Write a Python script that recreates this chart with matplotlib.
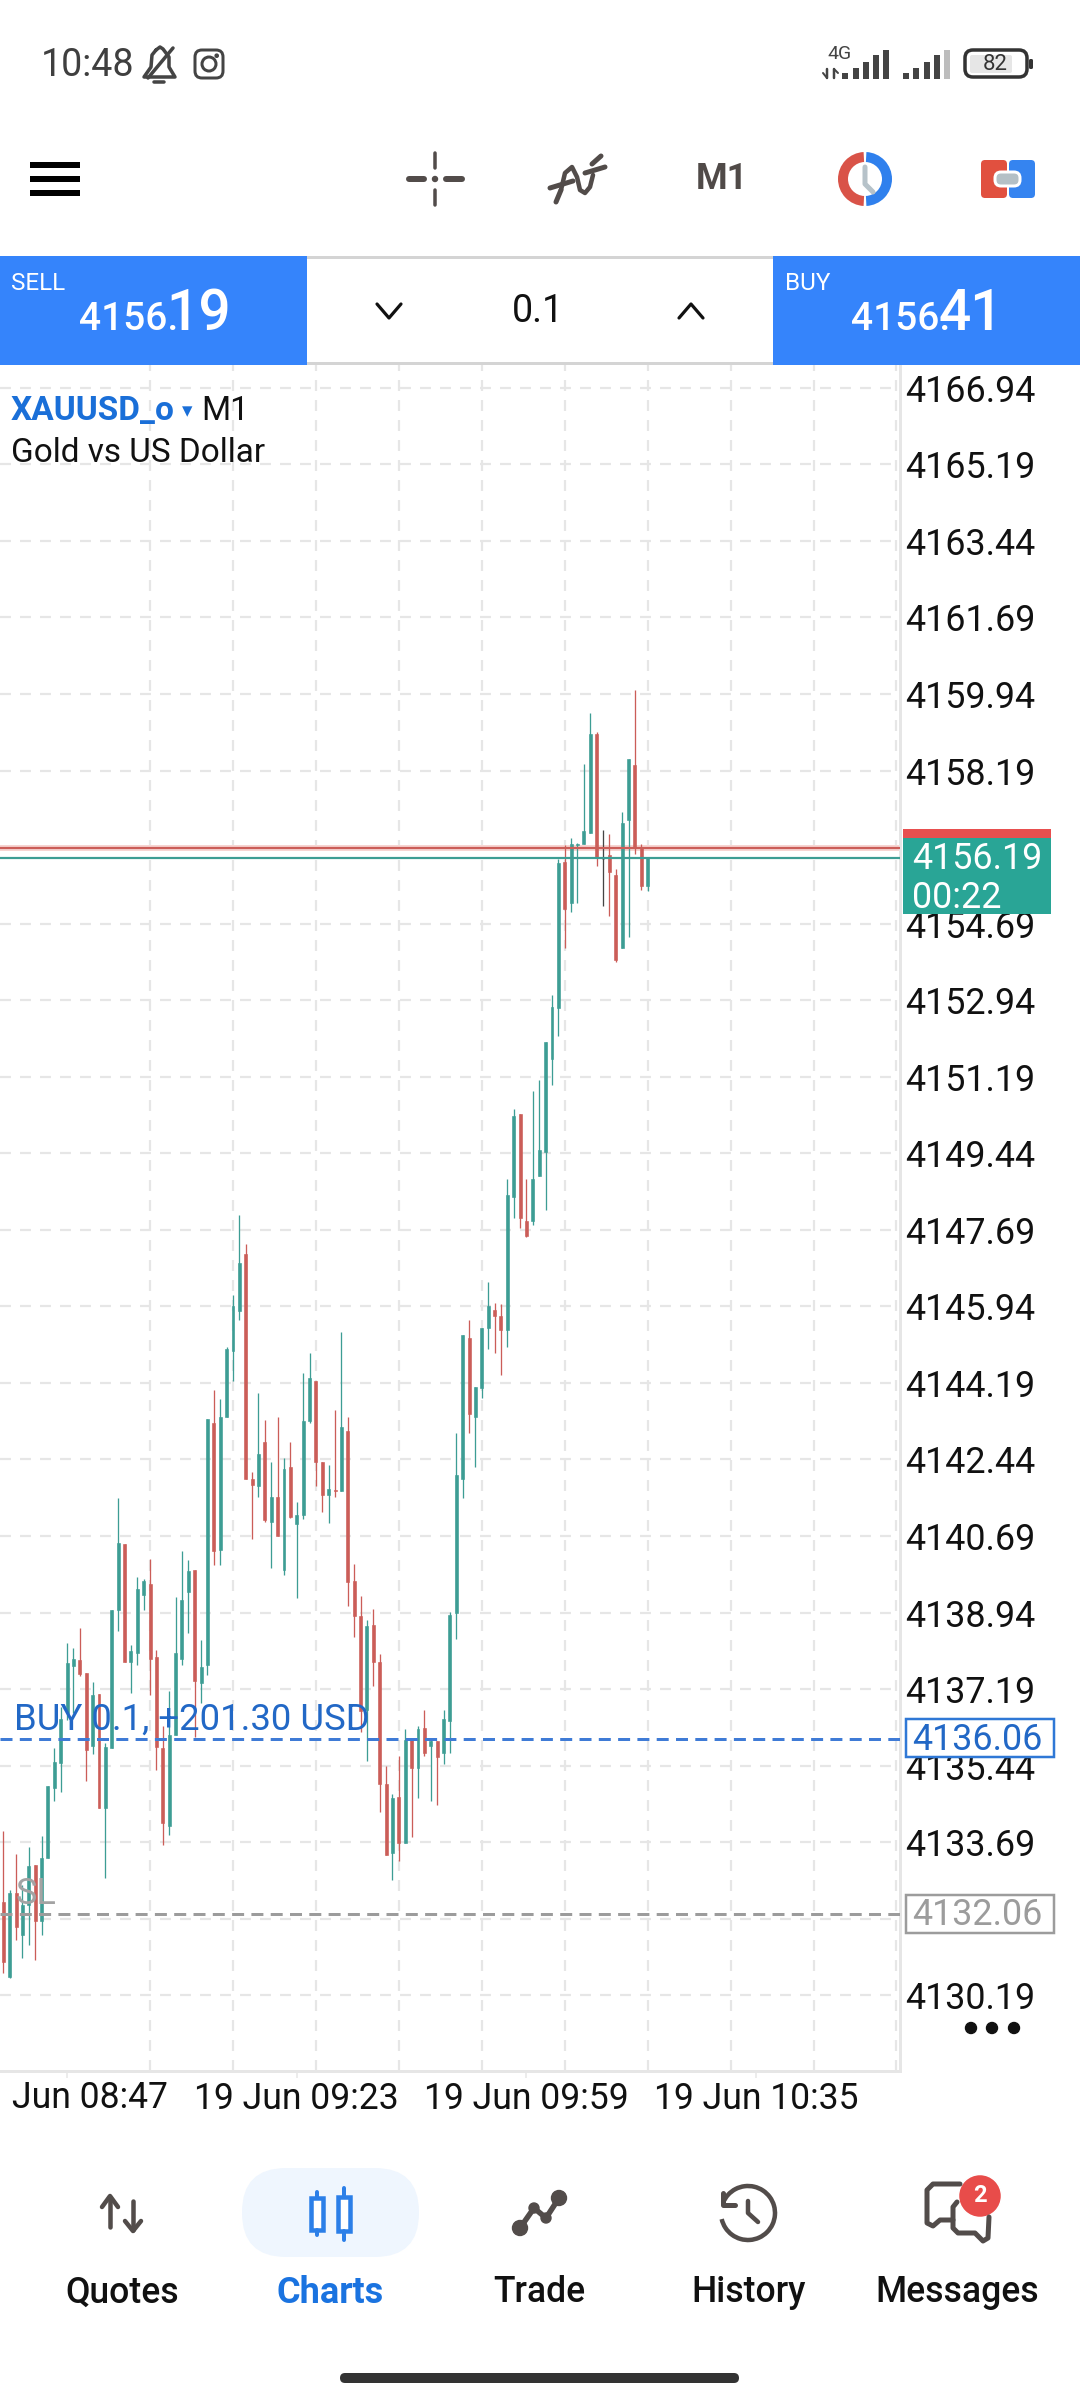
import matplotlib
matplotlib.use("Agg")
import matplotlib.pyplot as plt
from matplotlib.patches import Rectangle, Circle, Wedge, FancyBboxPatch, Arc
import numpy as np

plt.rcParams['font.family'] = ['Roboto', 'DejaVu Sans']
plt.rcParams['lines.scale_dashes'] = False

# candle data
opens = [4132.33, 4130.62, 4132.53, 4131.57, 4132.26, 4133.16, 4131.88, 4133.32, 4134.94, 4135.51,
         4136.64, 4137.71, 4137.86, 4137.56, 4135.88, 4137.08, 4134.47, 4135.84, 4138.99, 4140.51,
         4137.80, 4138.01, 4139.35, 4139.60, 4137.92, 4135.84, 4134.07, 4136.13, 4137.88, 4139.40,
         4139.92, 4137.34, 4137.73, 4143.27, 4140.37, 4143.42, 4144.93, 4145.84, 4147.13, 4141.99,
         4141.84, 4142.83, 4141.02, 4141.58, 4139.92, 4142.26, 4140.96, 4141.17, 4143.31, 4144.24,
         4142.38, 4141.62, 4141.74, 4141.72, 4143.09, 4139.66, 4138.86, 4136.72, 4138.66, 4137.81,
         4135.02, 4133.44, 4134.72, 4133.67, 4136.03, 4135.38, 4136.30, 4135.88, 4136.00, 4135.74,
         4136.45, 4138.93, 4141.99, 4145.21, 4143.41, 4144.07, 4145.45, 4145.86, 4145.72, 4145.40,
         4148.43, 4150.33, 4147.89, 4147.90, 4148.93, 4149.47, 4151.60, 4152.77, 4156.10, 4155.15,
         4156.49, 4156.50, 4156.77, 4159.02, 4156.16, 4156.25, 4155.80, 4154.14, 4157.06, 4158.32,
         4156.43, 4155.54]
highs = [4133.95, 4132.60, 4133.42, 4132.72, 4133.58, 4133.17, 4133.84, 4134.98, 4135.84, 4136.79,
         4138.24, 4138.13, 4138.58, 4137.56, 4137.35, 4137.08, 4135.95, 4138.99, 4141.55, 4140.51,
         4138.20, 4139.75, 4139.70, 4140.16, 4138.09, 4136.34, 4137.14, 4139.29, 4140.35, 4140.14,
         4139.92, 4138.32, 4143.36, 4144.03, 4143.82, 4145.02, 4146.20, 4148.03, 4147.37, 4142.16,
         4143.95, 4143.34, 4142.38, 4143.41, 4142.47, 4142.85, 4141.46, 4144.41, 4144.87, 4144.24,
         4142.38, 4142.32, 4143.57, 4145.35, 4143.41, 4140.05, 4139.32, 4138.77, 4139.02, 4138.00,
         4135.44, 4134.79, 4135.65, 4136.27, 4136.03, 4136.35, 4136.72, 4136.02, 4136.00, 4136.72,
         4138.96, 4143.04, 4145.29, 4145.63, 4144.09, 4145.45, 4146.49, 4146.01, 4146.00, 4148.85,
         4150.45, 4150.33, 4148.85, 4150.86, 4151.12, 4151.98, 4153.06, 4156.16, 4156.49, 4156.64,
         4156.54, 4158.34, 4159.50, 4159.06, 4156.84, 4156.74, 4155.93, 4157.23, 4158.45, 4160.03,
         4156.51, 4156.21]
lows = [4130.70, 4130.58, 4131.46, 4131.04, 4131.34, 4131.00, 4131.57, 4133.32, 4134.64, 4134.83,
        4136.49, 4136.64, 4137.48, 4135.10, 4135.71, 4134.47, 4132.87, 4135.84, 4138.51, 4137.80,
        4137.11, 4137.73, 4139.00, 4137.06, 4135.33, 4133.63, 4133.86, 4136.13, 4137.74, 4138.47,
        4136.09, 4136.88, 4137.52, 4140.02, 4140.02, 4143.42, 4144.24, 4145.62, 4142.00, 4140.62,
        4141.59, 4141.02, 4139.95, 4140.68, 4139.80, 4141.11, 4139.28, 4141.08, 4143.28, 4141.84,
        4141.25, 4140.98, 4141.59, 4141.72, 4139.08, 4138.39, 4136.20, 4135.54, 4137.26, 4134.39,
        4133.39, 4132.82, 4133.25, 4133.67, 4133.80, 4134.71, 4135.65, 4134.64, 4134.53, 4135.48,
        4135.74, 4138.33, 4141.57, 4143.04, 4142.26, 4143.84, 4144.97, 4144.87, 4144.37, 4145.02,
        4147.95, 4147.72, 4147.53, 4147.80, 4148.93, 4148.14, 4151.01, 4152.13, 4154.14, 4154.96,
        4155.15, 4156.50, 4156.77, 4156.01, 4155.10, 4154.86, 4153.82, 4154.14, 4154.39, 4156.27,
        4155.46, 4155.44]
closes = [4130.96, 4132.53, 4131.76, 4132.26, 4133.15, 4131.90, 4133.33, 4134.98, 4135.53, 4136.51,
          4137.78, 4137.87, 4137.54, 4135.79, 4137.06, 4134.47, 4135.86, 4138.99, 4140.53, 4137.80,
          4138.07, 4139.48, 4139.66, 4137.88, 4135.86, 4134.13, 4136.14, 4138.01, 4139.23, 4139.89,
          4137.38, 4137.69, 4143.36, 4140.34, 4143.41, 4144.97, 4145.95, 4146.93, 4142.00, 4141.86,
          4142.57, 4141.06, 4141.58, 4140.68, 4142.22, 4141.13, 4141.17, 4143.32, 4144.30, 4142.39,
          4141.63, 4141.76, 4141.71, 4143.18, 4139.63, 4138.87, 4136.68, 4138.64, 4137.80, 4135.02,
          4133.39, 4134.70, 4133.68, 4136.03, 4135.38, 4136.27, 4135.74, 4136.00, 4135.63, 4136.50,
          4138.88, 4142.08, 4145.29, 4143.47, 4144.09, 4145.45, 4145.95, 4145.73, 4145.40, 4148.49,
          4150.29, 4147.97, 4147.55, 4148.85, 4149.52, 4151.98, 4152.78, 4156.07, 4155.03, 4156.51,
          4156.52, 4156.80, 4159.02, 4156.18, 4156.16, 4155.86, 4153.86, 4157.00, 4158.45, 4156.41,
          4155.54, 4156.21]

price_ticks = [4166.94, 4165.19, 4163.44, 4161.69, 4159.94, 4158.19, 4156.44, 4154.69, 4152.94, 4151.19,
               4149.44, 4147.69, 4145.94, 4144.19, 4142.44, 4140.69, 4138.94, 4137.19, 4135.44, 4133.69,
               4131.94, 4130.19]
date_bars = [10, 46, 82, 118]
# the first label is cut off by the screen edge in the app, only this part shows
date_labels = ['Jun 08:47', '19 Jun 09:23', '19 Jun 09:59', '19 Jun 10:35']
grid_bars = [10, 23, 36, 49, 62, 75, 88, 101, 114, 127, 140]
bid = 4156.19
ask = 4156.41
entry = 4136.06
stop = 4132.06

TEAL = '#3d9d94'
RED = '#cb5d58'
GRID = '#e6e6e6'
BLUE = '#3584fb'
ICON = '#524c4a'
PX = 0.72  # points per pixel at dpi 100

fig = plt.figure(figsize=(10.8, 24), dpi=100)

# chart
ax = fig.add_axes([0, (2400 - 2071) / 2400, 900 / 1080, (2071 - 365) / 2400])
ax.set_xlim(-0.517, 140.55)
ax.set_ylim(4128.46, 4167.46)
for s in ['top', 'left']:
    ax.spines[s].set_visible(False)
for s in ['right', 'bottom']:
    ax.spines[s].set_color(GRID)
    ax.spines[s].set_linewidth(3 * PX)
ax.yaxis.tick_right()
ax.set_yticks(price_ticks)
ax.set_yticklabels(['%.2f' % p for p in price_ticks], fontsize=25.8, color='#111111')
ax.tick_params(axis='y', length=1.5, width=2 * PX, color=GRID, pad=2.2)
ax.set_xticks(date_bars)
ax.set_xticklabels([''] + date_labels[1:], fontsize=25.6, color='#111111')
ax.set_xticks(grid_bars, minor=True)
ax.tick_params(axis='x', which='major', length=5, width=1.5 * PX, color=GRID, pad=2.5)
ax.tick_params(axis='x', which='minor', length=0)
dash = (0, (11 * PX, 9 * PX))
ax.grid(True, axis='y', which='major', color=GRID, lw=2.2 * PX, linestyle=dash)
ax.grid(True, axis='x', which='minor', color=GRID, lw=2.2 * PX, linestyle=dash)
ax.grid(False, axis='x', which='major')
ax.set_axisbelow(True)

bars = np.arange(len(opens))
o = np.array(opens)
c = np.array(closes)
colors = [TEAL if c[i] > o[i] else RED if c[i] < o[i] else '#444444' for i in bars]
ax.vlines(bars, lows, highs, colors=colors, lw=1.3 * PX, zorder=3)
ax.bar(bars, c - o, bottom=o, width=0.46, color=colors, edgecolor=colors, linewidth=0.6 * PX, zorder=4)

ax.axhline(ask, color='#f7d5d2', lw=6 * PX, zorder=2)
ax.axhline(ask, color=RED, lw=2.2 * PX, zorder=5)
ax.axhline(bid, color=TEAL, lw=2.2 * PX, zorder=5)
ax.axhline(entry, color='#3f7bd6', lw=3 * PX, linestyle=(0, (12 * PX, 7.3 * PX)), zorder=5)
ax.axhline(stop, color='#9c9c9c', lw=3 * PX, linestyle=(0, (12 * PX, 7.3 * PX)), zorder=5)

# app chrome in pixel coordinates
ui = fig.add_axes([0, 0, 1, 1])
ui.set_xlim(0, 1080)
ui.set_ylim(2400, 0)
ui.axis('off')
ui.patch.set_alpha(0)
ui.set_zorder(5)


def rect(x0, y0, x1, y1, color, **kw):
    ui.add_patch(Rectangle((x0, y0), x1 - x0, y1 - y0, facecolor=color, edgecolor='none', **kw))


def line(xs, ys, color=ICON, w=4, **kw):
    ui.plot(xs, ys, color=color, lw=w * PX, solid_capstyle='round', solid_joinstyle='round', **kw)


def rbox(x0, y0, x1, y1, r, **kw):
    ui.add_patch(FancyBboxPatch((x0, y0), x1 - x0, y1 - y0, boxstyle='round,pad=0,rounding_size=%g' % r, **kw))


# status bar
ST = '#444444'
ui.text(41, 65, '10:48', fontsize=27, color='#3f3f3f', va='center')
line([156, 152, 151, 144, 175, 169, 169, 163, 160, 156],
     [50, 55, 67, 77, 77, 67, 57, 49, 47, 50], ST, 3.5)
line([148, 173], [78, 48], ST, 3.5)
line([154, 164], [82, 82], ST, 3.5)
rbox(195, 50, 223, 78, 7, facecolor='none', edgecolor=ST, lw=3 * PX)
ui.add_patch(Circle((209, 64), 7, facecolor='none', edgecolor=ST, lw=3 * PX))
ui.add_patch(Circle((216.7, 55.7), 1.6, color=ST))
ui.text(840, 54, '4G', fontsize=14, color=ST, ha='center', va='center')
for x, top in zip([845, 856, 866, 876, 886], [73, 68, 62, 55, 50]):
    rect(x - 3, top, x + 3, 79, ST)
for x, top, col in zip([906, 916, 927, 937, 947], [73, 68, 62, 55, 50], [ST, ST, ST, ST, '#bdbdbd']):
    rect(x - 3, top, x + 3, 79, col)
line([827, 827], [69, 78], ST, 2.5)
line([823, 827], [73, 78], ST, 2)
line([834, 834], [69, 78], ST, 2.5)
line([834, 838], [69, 73], ST, 2)
rbox(965, 50, 1027, 77, 8, facecolor='none', edgecolor='#333333', lw=3.5 * PX)
rbox(970, 55, 1012, 73, 2, facecolor='#e6e6e6', edgecolor='none')
ui.text(995, 64.5, '82', fontsize=16, color='#333333', ha='center', va='center')
rbox(1029, 59, 1033, 69, 1.5, facecolor='#333333', edgecolor='none')

# toolbar
for y0 in [162, 176, 190]:
    rect(30, y0, 80, y0 + 6, '#000000')
line([409, 424], [179, 179], ICON, 6)
line([446, 462], [179, 179], ICON, 6)
line([435, 435], [153, 168], ICON, 3.5)
line([435, 435], [190, 205], ICON, 3.5)
ui.add_patch(Circle((435, 179), 2.5, color=ICON))
line([561, 565, 572, 577, 580, 585, 590, 593], [190, 173, 167, 177, 190, 193, 187, 175], ICON, 4.5)
line([550, 573], [188, 181], ICON, 5)
line([585, 605], [173, 167], ICON, 5)
line([556, 561], [202, 190], ICON, 5)
line([592, 601], [164, 156], ICON, 5)
ui.text(722, 179, 'M1', fontsize=26, fontweight='bold', color='#504a48', ha='center', va='center')
ui.add_patch(Wedge((865, 179), 27, 93, 267, width=10, facecolor='#d95348', edgecolor='none'))
ui.add_patch(Wedge((865, 179), 27, -87, 87, width=10, facecolor='#2f80ed', edgecolor='none'))
line([865, 865, 873], [167, 184, 192], '#b6c2c9', 5)
rbox(981, 160, 1007, 198, 4, facecolor='#e1503f', edgecolor='none')
rbox(1009, 160, 1035, 198, 4, facecolor='#3584f0', edgecolor='none')
rbox(995, 172, 1020, 186, 6, facecolor='#b4c0c6', edgecolor='white', lw=3 * PX)

# sell / lot / buy strip
rect(307, 256, 773, 259, '#d4d4d4')
rect(307, 362, 773, 365, '#d4d4d4')
rect(0, 256, 307, 365, BLUE)
rect(773, 256, 1080, 365, BLUE)
ui.text(11, 283, 'SELL', fontsize=17.5, color='white', va='center')
ui.text(79, 330, '4156.', fontsize=28, color='white', va='baseline', fontweight='medium')
ui.text(166, 330, '19', fontsize=41, color='white', va='baseline', fontweight='medium')
ui.text(785, 283, 'BUY', fontsize=17.5, color='white', va='center')
ui.text(851, 330, '4156.', fontsize=28, color='white', va='baseline', fontweight='medium')
ui.text(938, 330, '41', fontsize=41, color='white', va='baseline', fontweight='medium')
ui.text(538, 312, '0.1', fontsize=27, color='#111111', ha='center', va='center')
line([377, 389, 401], [304, 318, 304], '#111111', 3.2)
line([679, 691, 703], [318, 304, 318], '#111111', 3.2)

# chart captions
ui.text(11, 411, 'XAUUSD_o', fontsize=24, fontweight='bold', color='#1a6fd8', va='center')
ui.text(187, 411, '▾', fontsize=15, color='#1a6fd8', ha='center', va='center', family=['DejaVu Sans'])
ui.text(201, 411, 'M1', fontsize=24, color='#111111', va='center')
ui.text(11, 453, 'Gold vs US Dollar', fontsize=24, color='#111111', va='center')
ui.text(14, 1720, 'BUY 0.1, +201.30 USD', fontsize=26.3, color='#2268c6', va='center')
ui.text(16, 1894, 'SL', fontsize=26, color='#a3a3a3', va='center')
ui.text(12, 2098, date_labels[0], fontsize=25.6, color='#111111', va='center')

# price boxes
rect(903, 829, 1051, 838, '#e84f4f')
rect(903, 838, 1051, 914, '#29a596')
ui.text(912, 859, '%.2f' % bid, fontsize=25.8, color='white', va='center')
ui.text(912, 898, '00:22', fontsize=25.8, color='white', va='center')
ui.add_patch(Rectangle((906, 1719), 148, 38, facecolor='white', edgecolor='#2f78d6', lw=2.5 * PX))
ui.text(912, 1739.5, '%.2f' % entry, fontsize=25.8, color='#2268c6', va='center')
ui.add_patch(Rectangle((906, 1895), 148, 38, facecolor='white', edgecolor='#9c9c9c', lw=2.5 * PX))
ui.text(912, 1915, '%.2f' % stop, fontsize=25.8, color='#9c9c9c', va='center')
for x in [971, 992, 1014]:
    ui.add_patch(Circle((x, 2028), 5.5, color='#111111'))

# bottom nav
rbox(242, 2168, 419, 2257, 44, facecolor='#eff6fe', edgecolor='none')
nav_names = ['Quotes', 'Charts', 'Trade', 'History', 'Messages']
nav_x = [122, 330, 539, 749, 957]
for name, x in zip(nav_names, nav_x):
    act = name == 'Charts'
    ui.text(x, 2293, name, fontsize=26 if act else 25.6, fontweight='bold' if act else 'medium',
            color='#1a73e0' if act else '#111111', ha='center', va='center')
# quotes
line([110, 110], [2198, 2227], ICON, 4.5)
line([102, 110, 118], [2207, 2196, 2207], ICON, 4.5)
line([133, 133], [2201, 2230], ICON, 4.5)
line([125, 133, 141], [2221, 2231, 2221], ICON, 4.5)
# charts
for x, w0, w1, b0, b1 in [(317, 2192, 2235, 2198, 2230), (344, 2188, 2240, 2197, 2231)]:
    line([x, x], [w0, b0], '#2b7fe8', 4)
    line([x, x], [b1, w1], '#2b7fe8', 4)
    ui.add_patch(Rectangle((x - 6, b0), 12, b1 - b0, facecolor='white', edgecolor='#2b7fe8', lw=4.5 * PX))
# trade
line([520, 534, 546, 559], [2228, 2208, 2218, 2198], ICON, 5.5)
for x, y, r in [(520, 2228, 7.5), (534, 2208, 5), (546, 2218, 5), (559, 2198, 7.5)]:
    ui.add_patch(Circle((x, y), r, color=ICON))
# history
ui.add_patch(Arc((748, 2213), 54, 54, theta1=202, theta2=527, color=ICON, lw=4.5 * PX))
line([723, 723, 735], [2193, 2205, 2205], ICON, 5)
line([748, 748, 758], [2201, 2213, 2222], ICON, 4.5)
# messages
line([960, 933, 927, 927, 933, 940, 953], [2184, 2184, 2190, 2223, 2226, 2220, 2220], ICON, 5)
line([957, 953, 953, 958, 975, 983, 988, 989], [2202, 2207, 2228, 2233, 2233, 2241, 2238, 2217], ICON, 5)
ui.add_patch(Circle((980, 2196), 21.5, color='#e84c4a', ec='white', lw=1.5 * PX))
ui.text(980, 2196, '2', fontsize=17, fontweight='bold', color='white', ha='center', va='center')

rbox(340, 2373, 739, 2383, 5, facecolor='#333333', edgecolor='none')

fig.savefig('out.png', dpi=100, facecolor='white')
